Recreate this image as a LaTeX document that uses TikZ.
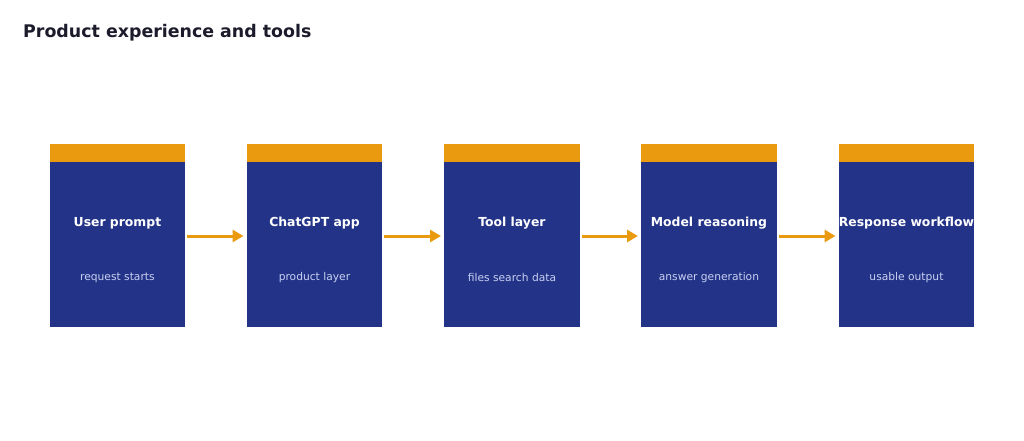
\documentclass[tikz,border=0pt]{standalone}
\usepackage{fontspec}
\setmainfont{DejaVu Sans}
\usetikzlibrary{arrows.meta}
\definecolor{boxblue}{HTML}{233488}
\definecolor{caporange}{HTML}{E99A0E}
\definecolor{titlecol}{HTML}{1B1B2B}
\definecolor{subcol}{HTML}{C9D0F2}
\tikzset{
  bodybox/.style={fill=boxblue, draw=none, minimum width=135.5pt, minimum height=165pt, inner sep=0pt, anchor=north west},
  capbar/.style={fill=caporange, draw=none, minimum width=135.5pt, minimum height=18pt, inner sep=0pt, anchor=south west},
  lbl/.style={text=white, font=\bfseries\fontsize{12.4}{14}\selectfont, inner sep=0pt},
  sublbl/.style={text=subcol, font=\fontsize{10.7}{12}\selectfont, inner sep=0pt},
  flow/.style={draw=caporange, line width=3pt, -{Triangle[length=11pt,width=12pt]}, shorten <=2pt, shorten >=3pt},
}
\begin{document}
\begin{tikzpicture}[x=1pt,y=-1pt]
\useasboundingbox (0,0) rectangle (1024,441);
\node[anchor=west, text=titlecol, font=\bfseries\fontsize{17.4}{20}\selectfont, inner sep=0pt] (title) at (23,32.5) {Product experience and tools};
\foreach \i/\x/\a/\b in {1/49.5/User prompt/request starts, 2/246.5/ChatGPT app/product layer, 3/444/Tool layer/files search data, 4/641/Model reasoning/answer generation, 5/838.5/Response workflow/usable output}{
  \node[bodybox] (b\i) at (\x,162) {};
  \node[capbar] (c\i) at (\x,162) {};
  \node[lbl] (l\i) at ([yshift=-61pt]b\i.north) {\a};
  \node[sublbl] (s\i) at ([yshift=-116pt]b\i.north) {\b};
}
\foreach \i/\j in {1/2,2/3,3/4,4/5}{
  \draw[flow] (b\i.east |- 0,236) -- (b\j.west |- 0,236);
}
\end{tikzpicture}
\end{document}
